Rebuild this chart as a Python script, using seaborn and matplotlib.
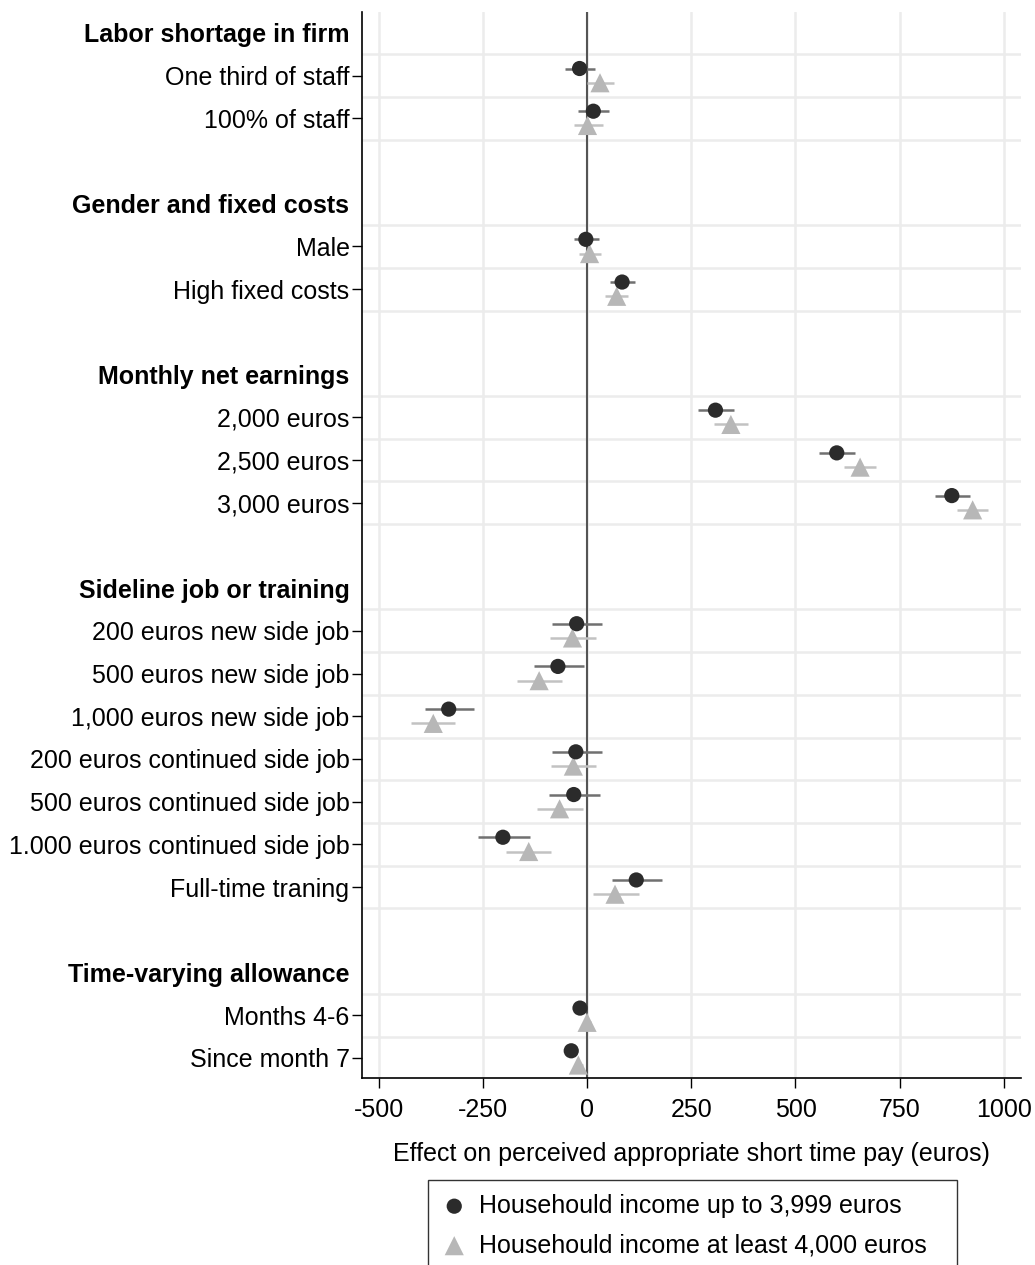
import matplotlib
matplotlib.use("Agg")
import matplotlib.pyplot as plt
import seaborn as sns
import pandas as pd
import numpy as np

# ---------------- data ----------------
row_labels = ["Labor shortage in firm", "One third of staff", "100% of staff", "",
              "Gender and fixed costs", "Male", "High fixed costs", "",
              "Monthly net earnings", "2,000 euros", "2,500 euros", "3,000 euros", "",
              "Sideline job or training", "200 euros new side job", "500 euros new side job",
              "1,000 euros new side job", "200 euros continued side job",
              "500 euros continued side job", "1.000 euros continued side job",
              "Full-time traning", "",
              "Time-varying allowance", "Months 4-6", "Since month 7"]
headers = ["Labor shortage in firm", "Gender and fixed costs", "Monthly net earnings",
           "Sideline job or training", "Time-varying allowance"]

items = ["One third of staff", "100% of staff", "Male", "High fixed costs",
         "2,000 euros", "2,500 euros", "3,000 euros",
         "200 euros new side job", "500 euros new side job", "1,000 euros new side job",
         "200 euros continued side job", "500 euros continued side job",
         "1.000 euros continued side job", "Full-time traning",
         "Months 4-6", "Since month 7"]

low_coef = [-18, 15, -3, 84, 308, 599, 875, -25, -70, -332, -27, -32, -202, 118, -17, -38]
low_lo   = [-53, -22, -32, 55, 266, 556, 835, -84, -128, -388, -84, -92, -262, 60, -28, -48]
low_hi   = [20, 52, 29, 115, 352, 643, 918, 35, -8, -272, 35, 32, -137, 180, -6, -28]

high_coef = [31, 1, 6, 71, 345, 655, 925, -35, -115, -369, -33, -66, -140, 67, 0, -21]
high_lo   = [0, -32, -20, 44, 305, 616, 887, -90, -167, -423, -87, -119, -195, 13, -10, -31]
high_hi   = [64, 37, 33, 99, 385, 693, 962, 22, -59, -316, 21, -10, -86, 124, 10, -11]

group_names = ["Househould income up to 3,999 euros", "Househould income at least 4,000 euros"]

xticks = [-500, -250, 0, 250, 500, 750, 1000]
xtick_labels = ["-500", "-250", "0", "250", "500", "750", "1000"]

# ---------------- build table ----------------
row_index = {lab: i for i, lab in enumerate(row_labels) if lab}
base = np.array([row_index[it] for it in items], dtype=float)
df_low = pd.DataFrame({"item": items, "coef": low_coef, "lo": low_lo, "hi": low_hi,
                       "y": base - 0.167})
df_high = pd.DataFrame({"item": items, "coef": high_coef, "lo": high_lo, "hi": high_hi,
                        "y": base + 0.167})

# ---------------- style ----------------
sns.set_theme(style="white")
plt.rcParams["font.family"] = ["Liberation Sans", "DejaVu Sans"]
plt.rcParams["axes.unicode_minus"] = False
plt.rcParams["text.color"] = "black"
plt.rcParams["axes.labelcolor"] = "black"
plt.rcParams["xtick.color"] = "black"
plt.rcParams["ytick.color"] = "black"

fig = plt.figure(figsize=(10.35, 12.65), dpi=100)
ax = fig.add_axes([362 / 1035, 1 - 1078 / 1265, (1021 - 362) / 1035, (1078 - 12) / 1265])

grid_c = "#ececec"
# vertical grid
for xt in xticks:
    ax.axvline(xt, color=grid_c, lw=1.8, zorder=0)
# horizontal grid at row boundaries around item rows
bounds = sorted(set([b - 0.5 for b in base] + [b + 0.5 for b in base]))
for b in bounds:
    ax.axhline(b, color=grid_c, lw=1.8, zorder=0)

ax.axvline(0, color="#555555", lw=1.5, zorder=1)

# confidence intervals
ax.hlines(df_low["y"], df_low["lo"], df_low["hi"], color="#707070", lw=1.8, zorder=2)
ax.hlines(df_high["y"], df_high["lo"], df_high["hi"], color="#c2c2c2", lw=1.8, zorder=2)

# points
sns.scatterplot(data=df_low, x="coef", y="y", marker="o", s=120, color="#2b2b2b",
                edgecolor="none", linewidth=0, ax=ax, zorder=4, label=group_names[0], legend=False)
sns.scatterplot(data=df_high, x="coef", y="y", marker="^", s=190, color="#b7b7b7",
                edgecolor="none", linewidth=0, ax=ax, zorder=3, label=group_names[1], legend=False)

ax.set_xlim(-540, 1041)
ax.set_ylim(24.47, -0.49)

ax.set_xticks(xticks)
ax.set_xticklabels(xtick_labels, fontsize=18, color="black")
ax.set_yticks(range(len(row_labels)))
ax.set_yticklabels(row_labels, fontsize=18, color="black")
ax.tick_params(axis="y", length=7.5, width=1.0, color="black", pad=1.5, left=True)
ax.tick_params(axis="x", length=7.5, width=1.0, color="black", pad=7, bottom=True)

for lab, tick in zip(row_labels, ax.yaxis.get_major_ticks()):
    if lab in headers:
        tick.label1.set_fontweight("bold")
        tick.tick1line.set_visible(False)
    elif lab == "":
        tick.tick1line.set_visible(False)

for s in ["top", "right"]:
    ax.spines[s].set_visible(False)
for s in ["left", "bottom"]:
    ax.spines[s].set_color("black")
    ax.spines[s].set_linewidth(1.2)

ax.set_xlabel("Effect on perceived appropriate short time pay (euros)", fontsize=18,
              labelpad=14, color="black")
ax.set_ylabel("")

h_low = [c for c in ax.collections if c.get_label() == group_names[0]][0]
h_high = [c for c in ax.collections if c.get_label() == group_names[1]][0]
leg = fig.legend([h_low, h_high], group_names, loc="upper left",
                 bbox_to_anchor=(428 / 1035, 1 - 1180 / 1265, (957 - 428) / 1035, 0),
                 mode="expand", fontsize=18, frameon=True, fancybox=False,
                 edgecolor="black", handletextpad=0.5, handlelength=1.0,
                 borderpad=0.55, labelspacing=0.62, borderaxespad=0, handleheight=0.7)
leg.get_frame().set_linewidth(1.0)
for t in leg.get_texts():
    t.set_color("black")

fig.savefig("out.png", dpi=100)
